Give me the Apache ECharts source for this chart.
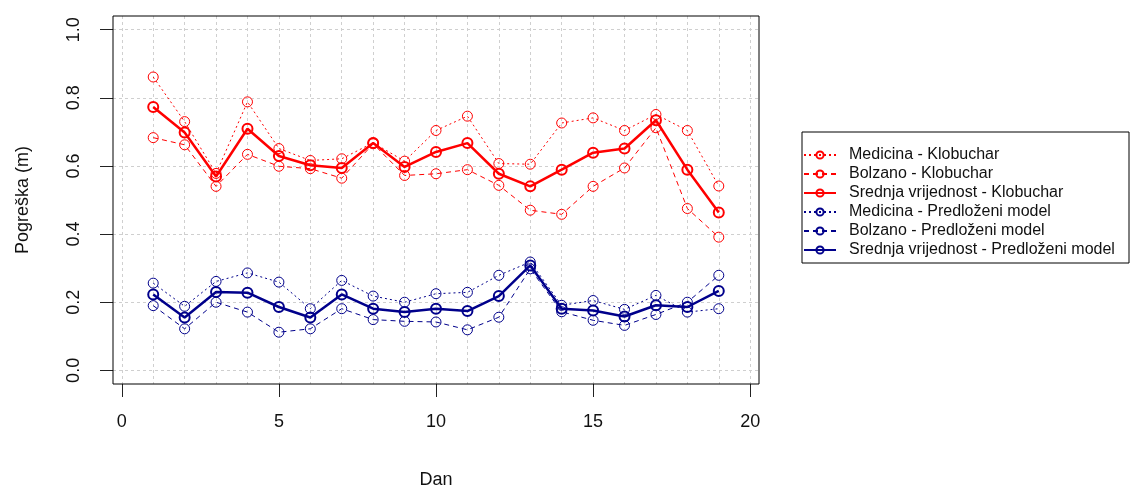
<!DOCTYPE html>
<html>
<head>
<meta charset="utf-8">
<script src="https://cdn.jsdelivr.net/npm/echarts@6/dist/echarts.min.js"></script>
<style>
html,body{margin:0;padding:0;background:#fff;}
#chart{width:1133px;height:489px;}
</style>
</head>
<body>
<div id="chart"></div>
<script>
// ---- data ----
const days = [1,2,3,4,5,6,7,8,9,10,11,12,13,14,15,16,17,18,19];
const medicinaKlobuchar = [0.861,0.730,0.578,0.788,0.651,0.616,0.621,0.668,0.614,0.704,0.746,0.607,0.605,0.726,0.741,0.704,0.751,0.704,0.541];
const bolzanoKlobuchar  = [0.683,0.662,0.540,0.634,0.599,0.592,0.564,0.665,0.572,0.577,0.589,0.543,0.470,0.458,0.540,0.594,0.712,0.475,0.391];
const srednjaKlobuchar  = [0.773,0.698,0.569,0.709,0.629,0.602,0.594,0.667,0.597,0.641,0.667,0.577,0.540,0.589,0.639,0.651,0.734,0.589,0.463];
const medicinaModel     = [0.256,0.188,0.261,0.286,0.259,0.181,0.264,0.218,0.200,0.225,0.229,0.279,0.318,0.191,0.205,0.179,0.220,0.171,0.181];
const bolzanoModel      = [0.190,0.122,0.200,0.171,0.112,0.122,0.181,0.149,0.144,0.142,0.119,0.156,0.298,0.172,0.147,0.132,0.164,0.200,0.279];
const srednjaModel      = [0.223,0.155,0.230,0.228,0.186,0.155,0.223,0.181,0.171,0.181,0.174,0.218,0.308,0.181,0.176,0.158,0.191,0.186,0.233];
const seriesNames = [
  'Medicina - Klobuchar','Bolzano - Klobuchar','Srednja vrijednost - Klobuchar',
  'Medicina - Predloženi model','Bolzano - Predloženi model','Srednja vrijednost - Predloženi model'
];
const xTickValues = [0,5,10,15,20];
const yTickValues = [0,0.2,0.4,0.6,0.8,1.0];

// ---- layout ----
const BOX = {l:113, t:16, r:759, b:384};
const XLIM = [-0.28, 20.28];
const YLIM = [-0.04, 1.04];
const px = v => BOX.l + (v - XLIM[0]) / (XLIM[1] - XLIM[0]) * (BOX.r - BOX.l);
const py = v => BOX.b - (v - YLIM[0]) / (YLIM[1] - YLIM[0]) * (BOX.b - BOX.t);
const FONT = "'Liberation Sans', Arial, sans-serif";
const RED = '#FF0000', BLUE = '#00008B';
const GRIDC = '#cfcfcf';

function mk(name, vals, color, kind) {
  const thick = kind === 'solid';
  return {
    name, type: 'line', xAxisIndex: 0, yAxisIndex: 0,
    data: days.map((d, i) => [d, vals[i]]),
    symbol: 'circle', symbolSize: 10,
    color: color,
    itemStyle: {color: 'rgba(255,255,255,0)', borderColor: color, borderWidth: thick ? 2 : 1},
    lineStyle: {color: color, width: thick ? 2.5 : 1,
      type: kind === 'dotted' ? [2,3] : (kind === 'dashed' ? [5,4] : 'solid')},
    emphasis: {disabled: true},
    animation: false
  };
}

const chart = echarts.init(document.getElementById('chart'), null, {renderer: 'canvas'});
chart.setOption({
  backgroundColor: '#fff',
  animation: false,
  textStyle: {fontFamily: FONT},
  grid: [
    {left: BOX.l, top: BOX.t, width: BOX.r - BOX.l, height: BOX.b - BOX.t, show: true,
     borderColor: '#000', borderWidth: 1, backgroundColor: 'transparent',
     containLabel: false, outerBoundsMode: 'none', z: 5},
    {left: px(0), top: BOX.t, width: px(20) - px(0), height: BOX.b - BOX.t,
     containLabel: false, outerBoundsMode: 'none'},
    {left: BOX.l, top: py(1), width: BOX.r - BOX.l, height: py(0) - py(1),
     containLabel: false, outerBoundsMode: 'none'}
  ],
  xAxis: [
    {gridIndex: 0, type: 'value', min: XLIM[0], max: XLIM[1], show: false},
    {gridIndex: 1, type: 'value', min: 0, max: 20, interval: 1,
     axisLine: {show: false}, axisTick: {show: false}, axisLabel: {show: false},
     splitLine: {show: true, lineStyle: {color: GRIDC, width: 1, type: [3,3]}}},
    {gridIndex: 1, type: 'value', min: 0, max: 20, interval: 5, position: 'bottom',
     axisLine: {show: false},
     axisTick: {show: true, length: 13, inside: false, lineStyle: {color: '#222', width: 1}},
     axisLabel: {show: true, margin: 29, fontSize: 18, color: '#111', fontFamily: FONT,
       formatter: v => String(v)},
     splitLine: {show: false},
     name: 'Dan', nameLocation: 'middle', nameGap: 87,
     nameTextStyle: {fontSize: 18, color: '#111', fontFamily: FONT}},
    {gridIndex: 2, type: 'value', min: 0, max: 1, show: false}
  ],
  yAxis: [
    {gridIndex: 0, type: 'value', min: YLIM[0], max: YLIM[1], show: false},
    {gridIndex: 1, type: 'value', min: 0, max: 1, show: false},
    {gridIndex: 2, type: 'value', min: 0, max: 1, interval: 0.2,
     axisLine: {show: false},
     axisTick: {show: true, length: 13, inside: false, lineStyle: {color: '#222', width: 1}},
     axisLabel: {show: true, margin: 30, rotate: 90, fontSize: 18, color: '#111', fontFamily: FONT,
       formatter: v => v.toFixed(1)},
     splitLine: {show: true, lineStyle: {color: GRIDC, width: 1, type: [3,3]}},
     name: 'Pogreška (m)', nameLocation: 'middle', nameGap: 81, nameRotate: 90,
     nameTextStyle: {fontSize: 18, color: '#111', fontFamily: FONT}}
  ],
  legend: {
    show: true, orient: 'vertical', left: 802, top: 132,
    padding: [15, 10, 5, 1],
    borderColor: '#000', borderWidth: 1, backgroundColor: '#fff',
    itemWidth: 32, itemHeight: 9, itemGap: 3,
    selectedMode: false,
    data: seriesNames,
    textStyle: {fontSize: 16, lineHeight: 16, color: '#111', fontFamily: FONT,
      padding: [0, 0, 0, 8], width: 270}
  },
  series: [
    mk(seriesNames[0], medicinaKlobuchar, RED, 'dotted'),
    mk(seriesNames[1], bolzanoKlobuchar, RED, 'dashed'),
    mk(seriesNames[2], srednjaKlobuchar, RED, 'solid'),
    mk(seriesNames[3], medicinaModel, BLUE, 'dotted'),
    mk(seriesNames[4], bolzanoModel, BLUE, 'dashed'),
    mk(seriesNames[5], srednjaModel, BLUE, 'solid')
  ]
});
</script>
</body>
</html>
